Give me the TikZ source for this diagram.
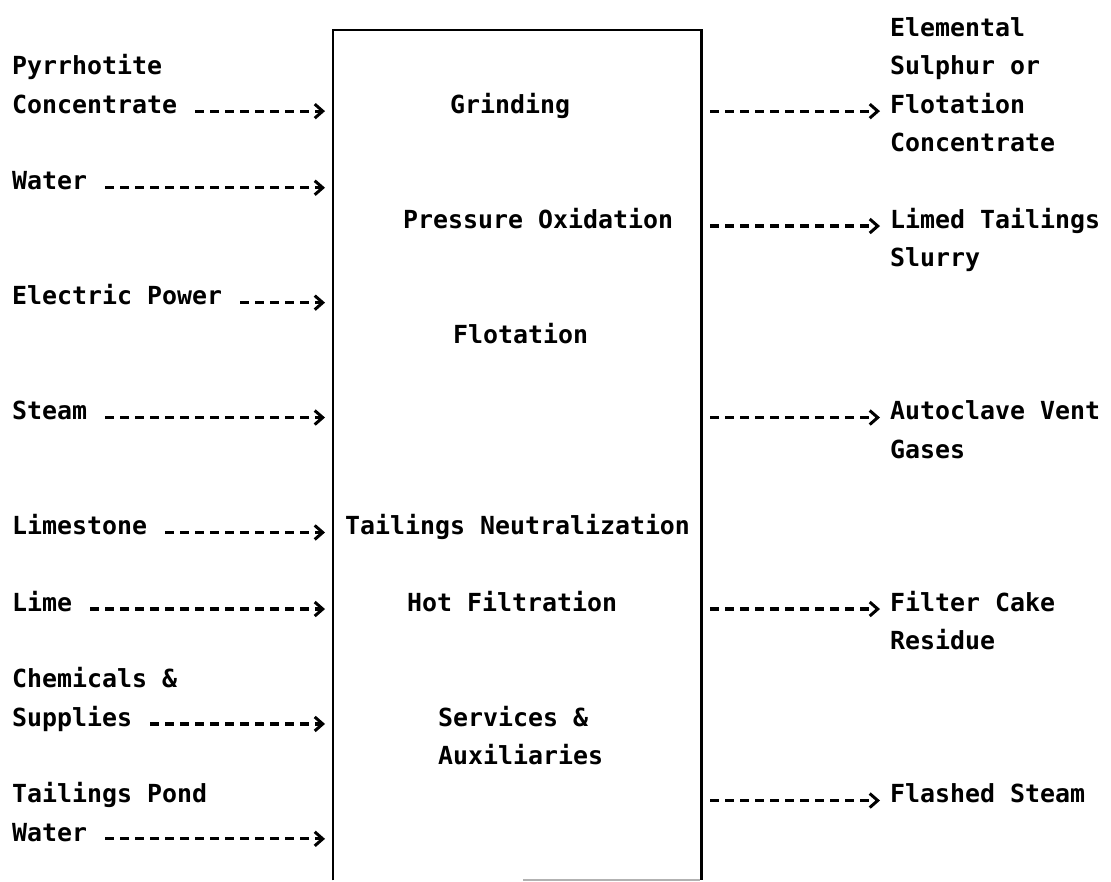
\documentclass[tikz,border=0pt]{standalone}
\usepackage{fontspec}
\setmonofont{DejaVu Sans Mono}
\usetikzlibrary{arrows.meta}
\begin{document}
\begin{tikzpicture}[x=1pt,y=-1pt,
  lbl/.style={inner sep=0pt, anchor=base west, font=\ttfamily\bfseries\fontsize{24.9pt}{30pt}\selectfont},
  flow/.style={line width=3.2pt, dash pattern=on 9pt off 6pt,
    -{Straight Barb[length=8pt,width=14pt,line width=3pt]}},
  wall/.style={line width=2.8pt}]
\useasboundingbox (0,0) rectangle (1111,882);

% process box
\node[inner sep=0pt, minimum width=368pt, minimum height=850pt, anchor=north west] (box) at (333,30) {};
\draw[wall] (box.south west) -- (box.north west) -- (box.north east) -- (box.south east);
\draw[black!30, line width=2pt] ([xshift=190pt]box.south west) -- ([xshift=-1pt]box.south east);

% processes inside the box
\node[lbl] (grind) at (450,113.3) {Grinding};
\node[lbl] (pox)   at (403,228.2) {Pressure Oxidation};
\node[lbl] (flot)  at (453,343.1) {Flotation};
\node[lbl] (neut)  at (345,534.6) {Tailings Neutralization};
\node[lbl] (hotf)  at (407,611.2) {Hot Filtration};
\node[lbl] (serv)  at (438,726.1) {Services \&};
\node[lbl] (aux)   at (438,764.4) {Auxiliaries};

% inputs
\node[lbl] (pyr)   at (12,75.0)  {Pyrrhotite};
\node[lbl] (conc)  at (12,113.3) {Concentrate};
\node[lbl] (water) at (12,189.9) {Water};
\node[lbl] (elec)  at (12,304.8) {Electric Power};
\node[lbl] (steam) at (12,419.7) {Steam};
\node[lbl] (lstone) at (12,534.6) {Limestone};
\node[lbl] (lime)  at (12,611.2) {Lime};
\node[lbl] (chem)  at (12,687.8) {Chemicals \&};
\node[lbl] (supp)  at (12,726.1) {Supplies};
\node[lbl] (pond)  at (12,802.7) {Tailings Pond};
\node[lbl] (pwater) at (12,841.0) {Water};

\foreach \n in {conc,water,elec,steam,lstone,lime,supp,pwater}
  \draw[flow, shorten >=8pt] ([xshift=18pt]\n.mid east) -- (\n.mid east -| box.west);

% outputs
\node[lbl] (elem)  at (890,36.7)  {Elemental};
\node[lbl] (sulph) at (890,75.0)  {Sulphur or};
\node[lbl] (fconc) at (890,113.3) {Flotation};
\node[lbl] (fconc2) at (890,151.6) {Concentrate};
\node[lbl] (limed) at (890,228.2) {Limed Tailings};
\node[lbl] (slurry) at (890,266.5) {Slurry};
\node[lbl] (vent)  at (890,419.7) {Autoclave Vent};
\node[lbl] (gases) at (890,458.0) {Gases};
\node[lbl] (cake)  at (890,611.2) {Filter Cake};
\node[lbl] (resid) at (890,649.5) {Residue};
\node[lbl] (flash) at (890,802.7) {Flashed Steam};

\foreach \n in {fconc,limed,vent,cake,flash}
  \draw[flow] ([xshift=9pt]box.east |- \n.mid west) -- ([xshift=-10pt]\n.mid west);
\end{tikzpicture}
\end{document}
